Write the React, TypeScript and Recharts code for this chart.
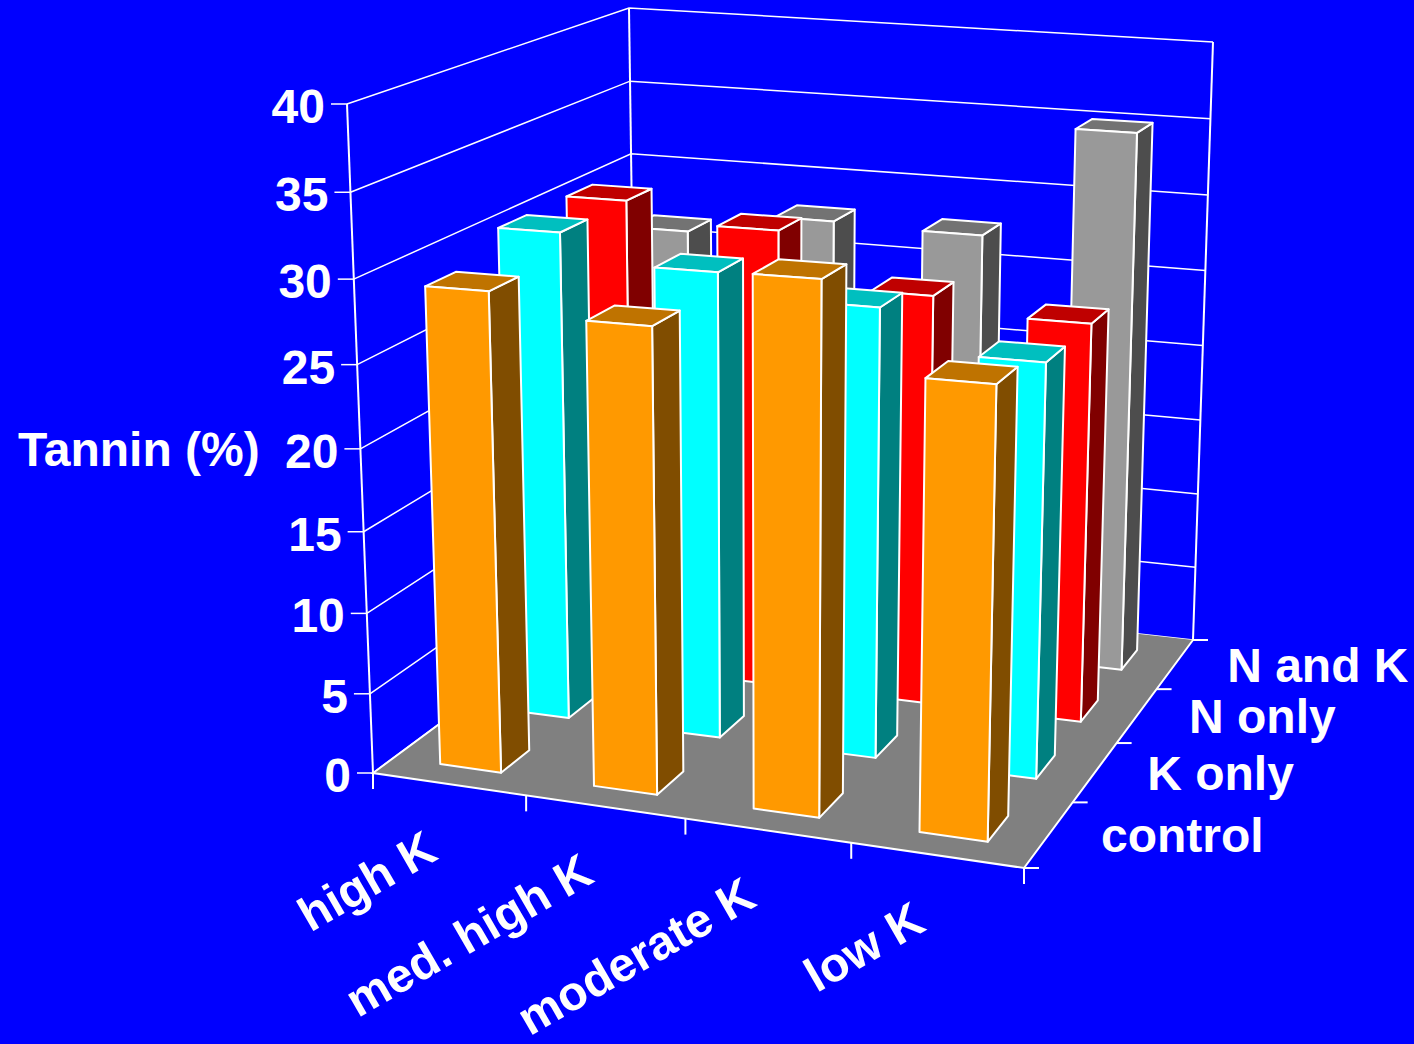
import { Bar, BarChart, CartesianGrid, XAxis, YAxis } from "recharts";

const CATEGORIES = ["high K", "med. high K", "moderate K", "low K"];
const SERIES_NAMES = ["control", "K only", "N only", "N and K"];
const CONTROL = [29.2, 27.95, 31.35, 26.3];
const K_ONLY = [30.6, 28.9, 27.55, 25.1];
const N_ONLY = [30.6, 29.4, 26.05, 25.1];
const N_AND_K = [26.6, 28, 27.8, 35.05];
const Y_TICKS = [0, 5, 10, 15, 20, 25, 30, 35, 40];

const data = CATEGORIES.map((name, i) => ({
  name,
  control: CONTROL[i],
  kOnly: K_ONLY[i],
  nOnly: N_ONLY[i],
  nAndK: N_AND_K[i],
}));

const W = 1414;
const H = 1044;
const FONT = "'Liberation Sans', Arial, sans-serif";
const FONT_SIZE = 48;

// box corners on screen: [x, y, perspective weight], indexed by front/back, left/right, floor/top
const CORNERS = {
  fl0: [373, 773, 1 / 669],
  fl1: [347, 104, 0.94 / 669],
  fr0: [1024, 868, 1 / 725],
  fr1: [1040, 143, 0.94 / 725],
  bl0: [637, 578, 1 / 582],
  bl1: [629, 8, 0.97 / 582],
  br0: [1193, 640, 1 / 598],
  br1: [1213, 42, 0.97 / 598],
};

// u along the categories, v into the depth, w up the value axis, all 0..1
function project(u: number, v: number, w: number): [number, number] {
  const terms: [number[], number][] = [
    [CORNERS.fl0, (1 - u) * (1 - v) * (1 - w)],
    [CORNERS.fl1, (1 - u) * (1 - v) * w],
    [CORNERS.fr0, u * (1 - v) * (1 - w)],
    [CORNERS.fr1, u * (1 - v) * w],
    [CORNERS.bl0, (1 - u) * v * (1 - w)],
    [CORNERS.bl1, (1 - u) * v * w],
    [CORNERS.br0, u * v * (1 - w)],
    [CORNERS.br1, u * v * w],
  ];
  let sx = 0;
  let sy = 0;
  let sw = 0;
  for (const [c, b] of terms) {
    sx += c[0] * c[2] * b;
    sy += c[1] * c[2] * b;
    sw += c[2] * b;
  }
  return [sx / sw, sy / sw];
}

const pts = (list: [number, number][]) => list.map((p) => p.join(",")).join(" ");

const BAR_DEPTH = 0.1;
// back rows sit a touch further left on the floor
const ROW_SHIFT = [0.002, 0, -0.001, -0.002];

function Box3D(props: any) {
  const { x, y, width, row, front, side, top } = props;
  const u0 = x / W + ROW_SHIFT[row];
  const u1 = (x + width) / W + ROW_SHIFT[row];
  const w = (H - y) / H;
  const v0 = (row + 0.5) * 0.25 - 0.055;
  const v1 = v0 + BAR_DEPTH;
  const line = { stroke: "#fff", strokeWidth: 2, strokeLinejoin: "round" as const };
  return (
    <g>
      <polygon
        points={pts([project(u1, v0, 0), project(u1, v1, 0), project(u1, v1, w), project(u1, v0, w)])}
        fill={side}
        {...line}
      />
      <polygon
        points={pts([project(u0, v0, w), project(u1, v0, w), project(u1, v1, w), project(u0, v1, w)])}
        fill={top}
        {...line}
      />
      <polygon
        points={pts([project(u0, v0, 0), project(u1, v0, 0), project(u1, v0, w), project(u0, v0, w)])}
        fill={front}
        {...line}
      />
    </g>
  );
}

function WallLine(props: any) {
  const w = (H - props.y1) / H;
  const a = project(0, 0, w);
  const b = project(0, 1, w);
  const c = project(1, 1, w);
  return <polyline key={props.key} points={pts([a, b, c])} stroke="#fff" strokeWidth={1.5} fill="none" />;
}

function ValueTick(props: any) {
  const w = (H - props.y) / H;
  const [px, py] = project(0, 0, w);
  return (
    <g>
      <line x1={px - 16} y1={py} x2={px} y2={py} stroke="#fff" strokeWidth={1.5} />
      <text x={px - 22} y={py + 19} textAnchor="end" fill="#fff" fontFamily={FONT} fontWeight="bold" fontSize={FONT_SIZE}>
        {props.payload.value}
      </text>
    </g>
  );
}

function CategoryTick(props: any) {
  const u = props.x / W;
  const [px, py] = project(u, 0, 0);
  const tx = px - 9;
  const ty = py + 74;
  return (
    <text
      x={tx}
      y={ty}
      transform={`rotate(-30 ${tx} ${ty})`}
      textAnchor="end"
      fill="#fff"
      fontFamily={FONT}
      fontWeight="bold"
      fontSize={FONT_SIZE}
    >
      {props.payload.value}
    </text>
  );
}

function Floor() {
  const fl = project(0, 0, 0);
  const fr = project(1, 0, 0);
  const br = project(1, 1, 0);
  const bl = project(0, 1, 0);
  const edge = { stroke: "#fff", strokeWidth: 2 };
  const bounds = [0, 0.25, 0.5, 0.75, 1];
  return (
    <g>
      <polyline points={pts([project(0, 0, 1), fl])} fill="none" {...edge} />
      <polyline points={pts([project(0, 1, 1), bl])} fill="none" {...edge} />
      <polyline points={pts([project(1, 1, 1), br])} fill="none" {...edge} />
      <polygon points={pts([fl, fr, br, bl])} fill="#808080" />
      <polyline points={pts([bl, fl, fr, br])} fill="none" {...edge} />
      {bounds.map((t) => {
        const [x, y] = project(t, 0, 0);
        return <line key={`u${t}`} x1={x} y1={y} x2={x} y2={y + 16} {...edge} />;
      })}
      {bounds.map((t) => {
        const [x, y] = project(1, t, 0);
        return <line key={`v${t}`} x1={x} y1={y} x2={x + 15} y2={y} {...edge} />;
      })}
    </g>
  );
}

const SERIES_STYLES = [
  { key: "nAndK", row: 3, front: "#999999", side: "#4d4d4d", top: "#737373" },
  { key: "nOnly", row: 2, front: "#ff0000", side: "#800000", top: "#bf0000" },
  { key: "kOnly", row: 1, front: "#00ffff", side: "#008080", top: "#00bfbf" },
  { key: "control", row: 0, front: "#ff9900", side: "#804d00", top: "#bf7300" },
];

export default function App() {
  const barSize = W * 0.1;
  return (
    <div style={{ position: "absolute", left: 0, top: 0, width: W, height: H, background: "#0000ff", overflow: "hidden" }}>
      <BarChart
        width={W}
        height={H}
        data={data}
        margin={{ top: 0, right: 0, bottom: -1, left: -1 }}
        barSize={barSize}
        barGap={-barSize}
      >
        <CartesianGrid vertical={false} horizontal={WallLine} syncWithTicks />
        <XAxis dataKey="name" height={1} axisLine={false} tickLine={false} interval={0} tick={CategoryTick} />
        <YAxis
          width={1}
          domain={[0, 40]}
          ticks={Y_TICKS}
          axisLine={false}
          tickLine={false}
          interval={0}
          tick={ValueTick}
        />
        <Floor />
        {SERIES_STYLES.map((s) => (
          <Bar
            key={s.key}
            dataKey={s.key}
            isAnimationActive={false}
            shape={(p: any) => <Box3D {...p} row={s.row} front={s.front} side={s.side} top={s.top} />}
          />
        ))}
        {SERIES_NAMES.map((name, i) => {
          const [x, y] = project(1, (i + 0.5) * 0.25, 0);
          return (
            <text key={name} x={x + 52} y={y + 18} fill="#fff" fontFamily={FONT} fontWeight="bold" fontSize={FONT_SIZE}>
              {name}
            </text>
          );
        })}
        <text x={18} y={466} fill="#fff" fontFamily={FONT} fontWeight="bold" fontSize={FONT_SIZE}>
          Tannin (%)
        </text>
      </BarChart>
    </div>
  );
}
